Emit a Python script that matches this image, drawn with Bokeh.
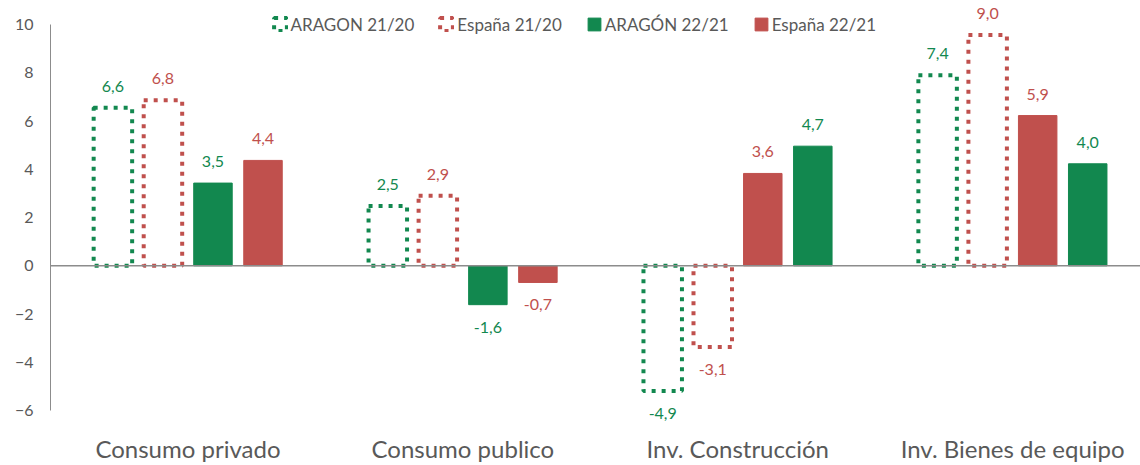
from bokeh.plotting import figure
from bokeh.models import Range1d, Span, Legend, LegendItem, ColumnDataSource, FixedTicker, LinearAxis, LabelSet
from bokeh.embed import file_html
from bokeh.resources import INLINE
from bokeh.core.properties import value

# ---------------- data ----------------
categories = ["Consumo privado", "Consumo publico", "Inv. Construcción", "Inv. Bienes de equipo"]
series_names = ["ARAGON 21/20", "España 21/20", "ARAGÓN 22/21", "España 22/21"]

# bar heights as drawn
aragon_2120 = [6.55, 2.48, -5.19, 7.90]
espana_2120 = [6.86, 2.90, -3.37, 9.57]
aragon_2221 = [3.43, -1.61, 4.96, 4.23]
espana_2221 = [4.37, -0.69, 3.83, 6.23]

# data label texts as printed
aragon_2120_labels = ["6,6", "2,5", "-4,9", "7,4"]
espana_2120_labels = ["6,8", "2,9", "-3,1", "9,0"]
aragon_2221_labels = ["3,5", "-1,6", "4,7", "4,0"]
espana_2221_labels = ["4,4", "-0,7", "3,6", "5,9"]

# slot order of the four series inside each category group
series_order = [
    ["ARAGON 21/20", "España 21/20", "ARAGÓN 22/21", "España 22/21"],
    ["ARAGON 21/20", "España 21/20", "ARAGÓN 22/21", "España 22/21"],
    ["ARAGON 21/20", "España 21/20", "España 22/21", "ARAGÓN 22/21"],
    ["ARAGON 21/20", "España 21/20", "España 22/21", "ARAGÓN 22/21"],
]

yticks = [-6, -4, -2, 0, 2, 4, 6, 8, 10]

# ---------------- style ----------------
GREEN = "#12884F"
RED = "#C0504D"
GRAY_TXT = "#595959"
AXIS_GRAY = "#8C8C8C"
FONT = "Lato"
STEP = 0.182
BAR_W = 0.14

values = {
    "ARAGON 21/20": (aragon_2120, aragon_2120_labels, GREEN, True),
    "España 21/20": (espana_2120, espana_2120_labels, RED, True),
    "ARAGÓN 22/21": (aragon_2221, aragon_2221_labels, GREEN, False),
    "España 22/21": (espana_2221, espana_2221_labels, RED, False),
}

p = figure(width=1140, height=465, output_backend="svg", toolbar_location=None,
           x_range=Range1d(-0.5, 3.465), y_range=Range1d(-6.62, 11.0),
           min_border_left=50, min_border_right=0, min_border_top=0, min_border_bottom=39,
           x_axis_type=None)
p.outline_line_color = None
p.grid.visible = False
p.background_fill_color = "white"
p.border_fill_color = "white"

legend_items = []
for name in series_names:
    vals, labs, color, dotted = values[name]
    xs = []
    for i, order in enumerate(series_order):
        slot = order.index(name)
        xs.append(i + (slot - 1.5) * STEP)
    src = ColumnDataSource(dict(x=xs, top=vals, label=labs,
                                yoff=[16 if v >= 0 else -28 for v in vals]))
    if dotted:
        r = p.vbar(x="x", top="top", bottom=0, width=BAR_W, source=src,
                   fill_alpha=0, line_color=color, line_width=4, line_dash="4 6")
    else:
        r = p.vbar(x="x", top="top", bottom=0, width=BAR_W, source=src,
                   fill_color=color, line_color=color, line_width=1)
    p.add_layout(LabelSet(x="x", y="top", text="label", source=src, y_offset="yoff",
                          text_align="center", text_baseline="alphabetic",
                          text_font=value(FONT), text_font_size="16px", text_color=color))
    legend_items.append(LegendItem(label=name, renderers=[r]))

p.add_layout(Span(location=0, dimension="width", line_color=AXIS_GRAY, line_width=1.5))

# y axis
ya = p.yaxis[0]
ya.ticker = FixedTicker(ticks=yticks)
ya.bounds = (-6, 10)
ya.axis_line_color = AXIS_GRAY
ya.axis_line_width = 1
ya.major_tick_line_color = None
ya.minor_tick_line_color = None
ya.major_tick_out = 0
ya.major_tick_in = 0
ya.major_label_standoff = 17
ya.major_label_text_font = FONT
ya.major_label_text_font_size = "16px"
ya.major_label_text_color = GRAY_TXT

# x axis with category names
xa = LinearAxis(ticker=FixedTicker(ticks=list(range(len(categories)))),
                major_label_overrides={i: c for i, c in enumerate(categories)})
xa.axis_line_color = None
xa.major_tick_line_color = None
xa.minor_tick_line_color = None
xa.major_tick_out = 0
xa.major_tick_in = 0
xa.major_label_standoff = 8
xa.major_label_text_font = FONT
xa.major_label_text_font_size = "24px"
xa.major_label_text_color = GRAY_TXT
p.add_layout(xa, "below")

legend = Legend(items=legend_items, orientation="horizontal", location=(221.5, 390),
                spacing=24, glyph_width=16, glyph_height=16, label_standoff=3,
                padding=0, margin=0, label_height=22,
                label_text_font=FONT, label_text_font_size="17px", label_text_color=GRAY_TXT,
                background_fill_alpha=0, border_line_alpha=0)
p.add_layout(legend, "center")

open("out.html", "w").write(file_html(p, INLINE))
